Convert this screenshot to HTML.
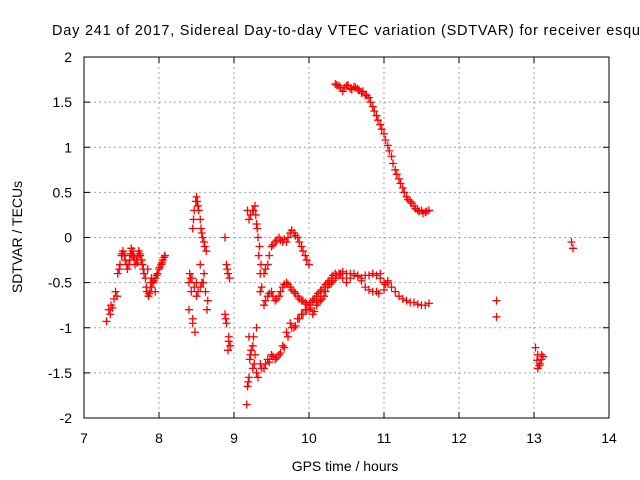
<!DOCTYPE html>
<html><head><meta charset="utf-8"><style>
html,body{margin:0;padding:0;background:#fff;}
svg{display:block;font-family:"Liberation Sans",sans-serif;}
</style></head><body>
<svg id="chart" width="640" height="480" xmlns="http://www.w3.org/2000/svg">
<rect width="640" height="480" fill="#fff"/>
<text x="52" y="35" font-size="14.5" textLength="588" lengthAdjust="spacing" fill="#000">Day 241 of 2017, Sidereal Day-to-day VTEC variation (SDTVAR) for receiver esqu</text>
<g id="grid"></g>
<g id="axes"></g>
<g id="marks"></g>
<rect x="84" y="57" width="525" height="361" fill="none" stroke="#000" stroke-width="1"/>
<text x="345" y="471" font-size="14" text-anchor="middle">GPS time / hours</text>
<text x="22" y="237" font-size="14" text-anchor="middle" transform="rotate(-90 22 237)">SDTVAR / TECUs</text>
</svg>
<script>
const xTicks = [7, 8, 9, 10, 11, 12, 13, 14];
const yTicks = [2, 1.5, 1, 0.5, 0, -0.5, -1, -1.5, -2];
const yTickLabels = ["2", "1.5", "1", "0.5", "0", "-0.5", "-1", "-1.5", "-2"];
const hours = [
7.3,7.33,7.36,7.4,7.42,7.45,7.48,7.5,7.52,7.55,7.58,7.6,7.62,7.65,7.68,7.7,7.73,7.75,7.78,7.8,7.83,7.86,7.88,7.9,7.92,7.95,7.98,8.0,8.03,8.05,8.08,7.85,7.9,7.95,
7.35,7.38,7.44,7.47,7.51,7.54,7.57,7.61,7.64,7.67,7.71,7.74,7.77,7.79,7.82,7.84,7.87,7.89,7.93,7.97,8.01,8.04,8.07,7.63,7.66,7.72,
8.4,8.42,8.45,8.47,8.5,8.52,8.55,8.57,8.6,8.63,8.4,8.43,8.45,8.48,8.5,8.55,8.6,8.62,8.65,8.5,8.55,8.45,
8.46,8.49,8.51,8.53,8.56,8.58,8.61,8.41,8.44,8.47,8.52,8.57,8.64,8.59,
8.88,8.9,8.92,8.94,8.88,8.9,8.93,8.95,8.92,8.89,8.91,8.93,
9.18,9.2,9.25,9.28,9.3,9.32,9.33,9.35,9.37,9.4,9.45,9.5,9.55,9.6,9.65,9.7,9.75,9.8,9.85,9.9,9.95,10.0,
9.22,9.26,9.29,9.31,9.34,9.36,9.42,9.47,9.52,9.57,9.62,9.67,9.72,9.77,9.82,9.87,9.92,9.97,
9.2,9.22,9.25,9.3,9.35,9.4,9.45,9.5,9.55,9.6,9.65,9.7,9.75,9.8,9.85,9.9,9.95,10.0,10.05,10.1,10.15,10.2,10.25,10.3,10.35,10.4,10.5,10.6,10.7,10.8,10.9,11.0,11.1,11.2,11.3,11.4,11.5,11.6,
9.27,9.32,9.37,9.42,9.47,9.52,9.57,9.62,9.67,9.72,9.77,9.82,9.87,9.92,9.97,10.02,10.07,10.12,10.17,10.22,10.27,10.32,10.37,10.42,10.45,10.55,10.65,10.75,10.85,10.95,11.05,11.15,11.25,11.35,11.45,11.55,
9.35,9.4,9.45,9.5,9.55,9.6,9.65,9.7,9.75,9.8,9.85,9.9,9.95,10.0,10.05,10.1,10.15,10.2,10.25,10.3,10.35,10.45,10.55,10.65,10.7,10.8,10.9,11.0,11.05,10.95,
9.42,9.47,9.52,9.57,9.62,9.67,9.72,9.77,9.82,9.87,9.92,9.97,10.02,10.07,10.12,10.17,10.22,10.27,10.32,10.4,10.5,10.6,10.75,10.85,10.93,11.02,
9.17,9.18,9.2,9.25,9.3,9.28,9.19,9.21,9.23,9.26,
10.35,10.4,10.45,10.5,10.55,10.6,10.65,10.7,10.75,10.8,10.85,10.9,10.95,11.0,11.05,11.1,11.15,11.2,11.25,11.3,11.35,11.4,11.45,11.5,11.55,11.6,
10.37,10.42,10.47,10.52,10.57,10.62,10.67,10.72,10.77,10.82,10.87,10.92,10.97,11.02,11.07,11.12,11.17,11.22,11.27,11.32,11.37,11.42,11.47,11.52,11.57,
12.5,12.5,13.02,13.05,13.08,13.1,13.05,13.12,13.5,13.52,13.04,13.07,13.1
];
const sdtvar = [
-0.93,-0.8,-0.75,-0.68,-0.6,-0.4,-0.3,-0.2,-0.15,-0.25,-0.35,-0.3,-0.18,-0.15,-0.3,-0.25,-0.15,-0.2,-0.3,-0.4,-0.55,-0.65,-0.6,-0.45,-0.5,-0.45,-0.4,-0.35,-0.3,-0.25,-0.2,-0.35,-0.55,-0.6,
-0.85,-0.78,-0.65,-0.35,-0.18,-0.2,-0.3,-0.25,-0.2,-0.22,-0.28,-0.18,-0.25,-0.35,-0.45,-0.6,-0.62,-0.5,-0.48,-0.42,-0.33,-0.28,-0.22,-0.12,-0.2,-0.2,
-0.8,-0.45,0.1,0.3,0.45,0.35,0.2,0.05,-0.05,-0.15,-0.5,-0.6,-0.95,-1.05,-0.5,-0.55,-0.4,-0.6,-0.7,-0.65,-0.3,-0.9,
0.2,0.4,0.4,0.3,0.1,0.0,-0.1,-0.4,-0.45,-0.55,-0.6,-0.5,-0.8,-0.5,
0.0,-0.3,-0.4,-0.45,-0.85,-0.95,-1.1,-1.2,-1.25,-0.9,-0.35,-1.15,
0.3,0.2,0.3,0.35,0.15,0.0,-0.2,-0.4,-0.55,-0.4,-0.3,-0.1,-0.05,0.0,-0.05,-0.05,0.05,0.05,0.0,-0.1,-0.2,-0.3,
0.25,0.3,0.25,0.1,-0.1,-0.3,-0.35,-0.2,-0.08,-0.03,-0.03,-0.02,0.0,0.08,0.02,-0.05,-0.15,-0.25,
-1.1,-1.3,-1.45,-1.5,-1.4,-1.45,-1.35,-1.3,-1.35,-1.3,-1.2,-1.05,-0.95,-1.0,-0.9,-0.85,-0.8,-0.8,-0.85,-0.75,-0.7,-0.65,-0.55,-0.5,-0.45,-0.4,-0.4,-0.42,-0.45,-0.42,-0.42,-0.5,-0.55,-0.65,-0.7,-0.72,-0.75,-0.73,
-1.4,-1.55,-1.45,-1.4,-1.38,-1.32,-1.33,-1.28,-1.22,-1.1,-1.0,-0.98,-0.9,-0.85,-0.8,-0.78,-0.82,-0.72,-0.68,-0.6,-0.52,-0.48,-0.42,-0.4,-0.38,-0.4,-0.43,-0.42,-0.4,-0.45,-0.48,-0.6,-0.68,-0.72,-0.74,-0.75,
-0.6,-0.75,-0.65,-0.6,-0.7,-0.65,-0.55,-0.5,-0.55,-0.6,-0.65,-0.7,-0.72,-0.75,-0.7,-0.65,-0.6,-0.55,-0.5,-0.45,-0.4,-0.45,-0.45,-0.42,-0.48,-0.58,-0.6,-0.58,-0.5,-0.4,
-0.7,-0.62,-0.65,-0.68,-0.6,-0.52,-0.52,-0.58,-0.62,-0.68,-0.7,-0.74,-0.72,-0.68,-0.62,-0.58,-0.52,-0.48,-0.42,-0.42,-0.5,-0.4,-0.55,-0.6,-0.62,-0.52,
-1.85,-1.65,-1.55,-1.2,-1.0,-1.3,-1.6,-1.35,-1.25,-1.1,
1.7,1.68,1.62,1.68,1.65,1.67,1.65,1.6,1.58,1.55,1.45,1.35,1.25,1.15,1.02,0.9,0.75,0.65,0.55,0.45,0.4,0.35,0.3,0.3,0.28,0.3,
1.69,1.66,1.66,1.69,1.64,1.66,1.63,1.62,1.57,1.5,1.4,1.3,1.2,1.08,0.96,0.82,0.7,0.6,0.5,0.42,0.38,0.32,0.29,0.27,0.29,
-0.7,-0.88,-1.22,-1.3,-1.4,-1.35,-1.45,-1.32,-0.05,-0.12,-1.36,-1.42,-1.3
];
const NS="http://www.w3.org/2000/svg";
const X0=84,X1=609,Y0=57,Y1=418;
function xs(v){return X0+(v-7)/(14-7)*(X1-X0);}
function ys(v){return Y0+(2-v)/4*(Y1-Y0);}
function mk(tag,attrs,parent){const e=document.createElementNS(NS,tag);for(const k in attrs)e.setAttribute(k,attrs[k]);parent.appendChild(e);return e;}
const grid=document.getElementById('grid'),axes=document.getElementById('axes'),marks=document.getElementById('marks');
xTicks.forEach((t,i)=>{
  const x=xs(t);
  if(i>0&&i<xTicks.length-1){const g=mk('line',{x1:x,x2:x,y1:Y0,y2:Y1,stroke:'#a0a0a0','stroke-dasharray':'2,3'},grid);
  
  }
  const a=mk('path',{d:`M${x},${Y1}v-6M${x},${Y0}v6`,stroke:'#000'},axes);
  
  
  const l=mk('text',{x:x,y:443,'font-size':14,'text-anchor':'middle'},axes);
  l.textContent=String(t);
  
  
});
yTicks.forEach((t,i)=>{
  const y=ys(t);
  if(i>0&&i<yTicks.length-1){const g=mk('line',{x1:X0,x2:X1,y1:y,y2:y,stroke:'#a0a0a0','stroke-dasharray':'2,3'},grid);
  
  }
  const a=mk('path',{d:`M${X0},${y}h6M${X1},${y}h-6`,stroke:'#000'},axes);
  
  
  const l=mk('text',{x:72,y:y+5,'font-size':14,'text-anchor':'end'},axes);
  l.textContent=yTickLabels[i];
  
  
});
let d='';
for(let i=0;i<hours.length;i++){const x=xs(hours[i]),y=ys(sdtvar[i]);d+=`M${x-4},${y}h8M${x},${y-4}v8`;}
const p=mk('path',{d:d,stroke:'#ff0000','stroke-width':1.3,fill:'none'},marks);


</script>
</body></html>
